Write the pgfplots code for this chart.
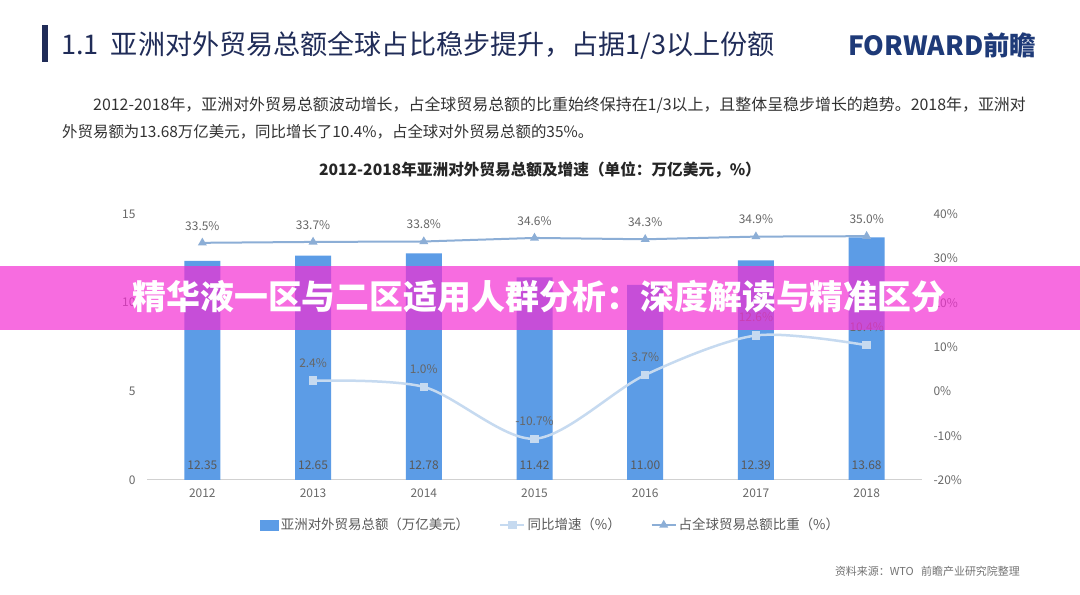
\documentclass[border=0pt]{standalone}
\usepackage{fontspec}
\setmainfont{Noto Sans CJK SC}
\usepackage{pgfplots}
\pgfplotsset{compat=1.18}
\definecolor{barblue}{RGB}{92,156,230}
\definecolor{growth}{RGB}{198,218,240}
\definecolor{share}{RGB}{140,174,214}
\definecolor{navy}{RGB}{32,44,88}
\definecolor{logoblue}{RGB}{30,58,120}
\definecolor{ticktext}{RGB}{105,105,105}
\definecolor{paratext}{RGB}{50,50,50}
\definecolor{bannerpink}{RGB}{244,46,211}
\pgfplotsset{lineleg/.style={legend image code/.code={\draw[mark repeat=2,mark phase=2,##1] plot coordinates {(0bp,0bp) (12bp,0bp) (24bp,0bp)};}}}
\begin{document}
\begin{tikzpicture}
\path[use as bounding box, fill=white] (0,0) rectangle (1080bp,595bp);
% header
\fill[navy] (42bp,533bp) rectangle (48bp,570bp);
\node[anchor=west, inner sep=0, text=navy, font=\fontsize{27.2}{32}\selectfont] at (61bp,550bp) {1.1\ \ 亚洲对外贸易总额全球占比稳步提升，占据1/3以上份额};
\node[anchor=west, inner sep=0, text=logoblue, font=\bfseries\fontsize{26.5}{30}\selectfont] at (848bp,550bp) {FORWARD前瞻};
% paragraph
\node[anchor=west, inner sep=0, text=paratext, font=\fontsize{16}{19}\selectfont] at (93bp,490bp) {2012-2018年，亚洲对外贸易总额波动增长，占全球贸易总额的比重始终保持在1/3以上，且整体呈稳步增长的趋势。2018年，亚洲对};
\node[anchor=west, inner sep=0, text=paratext, font=\fontsize{15.5}{19}\selectfont] at (62bp,463bp) {外贸易额为13.68万亿美元，同比增长了10.4\%，占全球对外贸易总额的35\%。};
% chart title
\node[inner sep=0, text=black!85, font=\bfseries\fontsize{15.7}{18}\selectfont] at (540bp,425bp) {2012-2018年亚洲对外贸易总额及增速（单位：万亿美元，\%）};

\begin{axis}[
  at={(147bp,115bp)}, anchor=south west, scale only axis,
  width=775bp, height=266bp,
  xmin=-0.5, xmax=6.5, ymin=0, ymax=15,
  axis x line*=bottom, axis y line*=left,
  x axis line style={draw=black!18, line width=1bp, -},
  y axis line style={draw=none},
  major tick length=0,
  xtick={0,1,2,3,4,5,6},
  xticklabels={2012,2013,2014,2015,2016,2017,2018},
  ytick={0,5,10,15}, yticklabels={0,5,10,15},
  tick label style={text=ticktext, font=\fontsize{12}{14}\selectfont},
  xticklabel style={yshift=-5bp},
  yticklabel style={xshift=-8bp},
  clip=false,
]
\addplot[ybar, bar width=36bp, fill=barblue, draw=none] coordinates {
 (0,12.35) (1,12.65) (2,12.78) (3,11.42) (4,11.00) (5,12.39) (6,13.68)};
\addplot[draw=none, mark=none, point meta=explicit symbolic, nodes near coords,
  every node near coord/.append style={anchor=center, text=black!65, font=\fontsize{12}{14}\selectfont}]
 coordinates {(0,0.85)[12.35] (1,0.85)[12.65] (2,0.85)[12.78] (3,0.85)[11.42] (4,0.85)[11.00] (5,0.85)[12.39] (6,0.85)[13.68]};
\end{axis}

\begin{axis}[
  at={(147bp,115bp)}, anchor=south west, scale only axis,
  width=775bp, height=266bp,
  xmin=-0.5, xmax=6.5, ymin=-20, ymax=40,
  axis y line*=right, hide x axis,
  y axis line style={draw=none},
  major tick length=0,
  ytick={-20,-10,0,10,20,30,40},
  yticklabels={-20\%,-10\%,0\%,10\%,20\%,30\%,40\%},
  tick label style={text=ticktext, font=\fontsize{12}{14}\selectfont},
  yticklabel style={xshift=8bp},
  clip=false,
  legend style={at={(0.521,-0.169)}, anchor=center, draw=none, fill=none,
    legend columns=3, font=\fontsize{13.5}{16}\selectfont, text=black!65,
    /tikz/every even column/.append style={column sep=28bp},
    inner sep=0pt},
  legend cell align=left,
]
\addlegendimage{legend image code/.code={\fill[barblue] (0bp,-5bp) rectangle (18bp,5bp);}}
\addlegendentry{亚洲对外贸易总额（万亿美元）}
\addplot[growth, line width=2.5bp, smooth, mark=square*, mark size=3bp,
  mark options={fill=growth, draw=growth}, lineleg,
  point meta=explicit symbolic, nodes near coords,
  every node near coord/.append style={anchor=center, yshift=18bp, text=black!60, font=\fontsize{12}{14}\selectfont}]
 coordinates {(1,2.4)[2.4\%] (2,1.0)[1.0\%] (3,-10.7)[-10.7\%] (4,3.7)[3.7\%] (5,12.6)[12.6\%] (6,10.4)[10.4\%]};
\addlegendentry{同比增速（\%）}
\addplot[share, line width=2bp, mark=triangle*, mark size=3.2bp,
  mark options={fill=share, draw=share}, lineleg,
  point meta=explicit symbolic, nodes near coords,
  every node near coord/.append style={anchor=center, yshift=17bp, text=black!60, font=\fontsize{12}{14}\selectfont}]
 coordinates {(0,33.5)[33.5\%] (1,33.7)[33.7\%] (2,33.8)[33.8\%] (3,34.6)[34.6\%] (4,34.3)[34.3\%] (5,34.9)[34.9\%] (6,35.0)[35.0\%]};
\addlegendentry{占全球贸易总额比重（\%）}
\end{axis}

% source
\node[anchor=east, inner sep=0, text=black!55, font=\fontsize{11}{13}\selectfont] at (1020bp,24bp) {资料来源：WTO\ \ \ 前瞻产业研究院整理};
% banner
\fill[bannerpink, opacity=0.7] (0,265bp) rectangle (1080bp,329bp);
\node[inner sep=0, text=white, font=\bfseries\fontsize{34}{38}\selectfont] at (539bp,298bp) {精华液一区与二区适用人群分析：深度解读与精准区分};
\end{tikzpicture}
\end{document}
